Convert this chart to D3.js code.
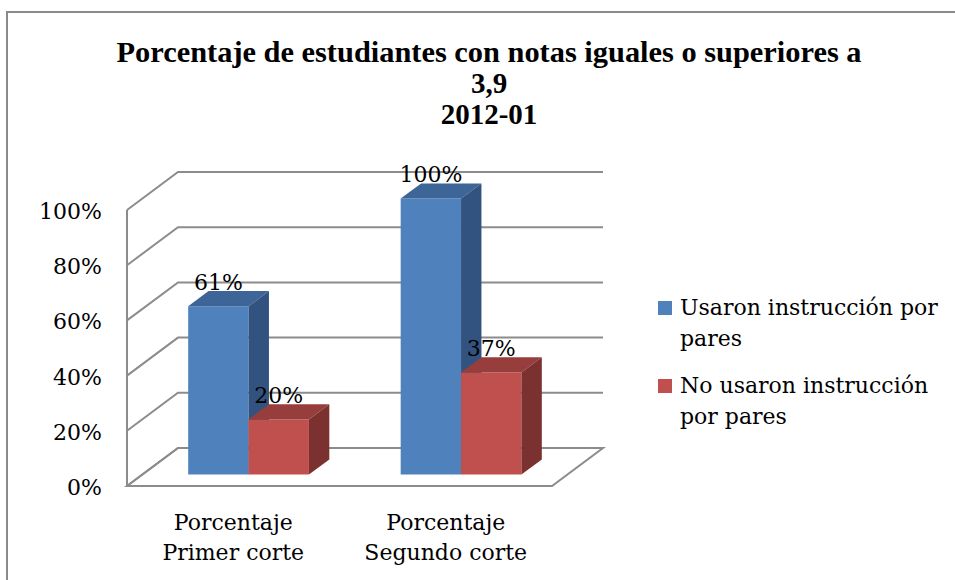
<!DOCTYPE html>
<html>
<head>
<meta charset="utf-8">
<script src="https://cdn.jsdelivr.net/npm/d3@7"></script>
<style>
  body { margin: 0; background: #fff; }
  text { font-family: "DejaVu Serif", serif; fill: #000; }
</style>
</head>
<body>
<div id="chart"></div>
<script>
// chart data
var categories = ["Porcentaje Primer corte", "Porcentaje Segundo corte"];
var categoryLines = [["Porcentaje", "Primer corte"], ["Porcentaje", "Segundo corte"]];
var seriesNames = ["Usaron instrucción por pares", "No usaron instrucción por pares"];
var legendLines = [["Usaron instrucción por", "pares"], ["No usaron instrucción", "por pares"]];
var usaron = [0.61, 1.00];
var noUsaron = [0.20, 0.37];
var valueLabels = [["61%", "100%"], ["20%", "37%"]];
var yTicks = [0, 0.2, 0.4, 0.6, 0.8, 1.0];
var titleLines = ["Porcentaje de estudiantes con notas iguales o superiores a", "3,9", "2012-01"];

var width = 955, height = 580;

var faces = [
  {front: "#4f81bd", top: "#3d6597", side: "#32537f"},
  {front: "#c0504d", top: "#973e3c", side: "#7b3130"}
];

var svg = d3.select("#chart").append("svg")
    .attr("width", width)
    .attr("height", height);

// outer chart border
svg.append("rect")
    .attr("x", 7).attr("y", 12)
    .attr("width", 970).attr("height", 600)
    .attr("fill", "none")
    .attr("stroke", "#8a8a8a")
    .attr("stroke-width", 2);

// scales: front plane plus an oblique depth offset
var x0 = d3.scaleBand().domain(categories).range([127, 552]).padding(0);
var x1 = d3.scaleBand().domain(seriesNames).range([0, x0.bandwidth()])
    .paddingInner(0).paddingOuter(0.76);
var y = d3.scaleLinear().domain([0, 1]).range([486, 210]);
var depth = {dx: 51, dy: -38};
var barZ = [0.3, 0.7];

function proj(x, v, z) {
  return [x + z * depth.dx, y(v) + z * depth.dy];
}
function poly(pts) {
  return pts.map(function(p) { return p.join(","); }).join(" ");
}

var grid = svg.append("g")
    .attr("fill", "none")
    .attr("stroke", "#8c8c8c")
    .attr("stroke-width", 2);

var xl = x0.range()[0], xr = x0.range()[1];

// back wall lines and left wall diagonals
yTicks.forEach(function(t) {
  var a = proj(xl, t, 0), b = proj(xl, t, 1), c = proj(xr, t, 1);
  grid.append("polyline").attr("points", poly([a, b, c]));
});
// left wall front edge
grid.append("line")
    .attr("x1", xl).attr("y1", y(0))
    .attr("x2", xl).attr("y2", y(1));
// floor outline
grid.append("polygon")
    .attr("points", poly([proj(xl, 0, 0), proj(xr, 0, 0), proj(xr, 0, 1), proj(xl, 0, 1)]));

// y tick labels
svg.append("g").selectAll("text")
    .data(yTicks)
    .enter().append("text")
    .attr("x", 102)
    .attr("y", function(d) { return y(d) + 9; })
    .attr("text-anchor", "end")
    .style("font-size", "22px")
    .text(function(d) { return Math.round(d * 100) + "%"; });

// bars
var series = [usaron, noUsaron];
var bars = svg.append("g");
categories.forEach(function(cat, i) {
  series.forEach(function(vals, s) {
    var v = vals[i];
    var xa = x0(cat) + x1(seriesNames[s]);
    var xb = xa + x1.bandwidth();
    var z0 = barZ[0], z1 = barZ[1];
    bars.append("polygon")
        .attr("points", poly([proj(xa, 0, z0), proj(xb, 0, z0), proj(xb, v, z0), proj(xa, v, z0)]))
        .attr("fill", faces[s].front);
    bars.append("polygon")
        .attr("points", poly([proj(xa, v, z0), proj(xb, v, z0), proj(xb, v, z1), proj(xa, v, z1)]))
        .attr("fill", faces[s].top);
    bars.append("polygon")
        .attr("points", poly([proj(xb, 0, z0), proj(xb, v, z0), proj(xb, v, z1), proj(xb, 0, z1)]))
        .attr("fill", faces[s].side);
  });
});

// value labels
categories.forEach(function(cat, i) {
  series.forEach(function(vals, s) {
    var cx = x0(cat) + x1(seriesNames[s]) + x1.bandwidth() / 2;
    var p = proj(cx, vals[i], barZ[0]);
    var q = proj(cx, vals[i], barZ[1]);
    svg.append("text")
        .attr("x", p[0])
        .attr("y", q[1] - 1)
        .attr("text-anchor", "middle")
        .style("font-size", "22px")
        .text(valueLabels[s][i]);
  });
});

// category labels
categories.forEach(function(cat, i) {
  var t = svg.append("text")
      .attr("text-anchor", "middle")
      .style("font-size", "22px");
  categoryLines[i].forEach(function(line, k) {
    t.append("tspan")
        .attr("x", x0(cat) + x0.bandwidth() / 2)
        .attr("y", 530 + k * 30)
        .text(line);
  });
});

// legend
var legend = svg.append("g");
legendLines.forEach(function(lines, s) {
  var top = 315 + s * 78;
  legend.append("rect")
      .attr("x", 658).attr("y", top - 14)
      .attr("width", 14).attr("height", 14)
      .attr("fill", faces[s].front);
  var t = legend.append("text").style("font-size", "22px");
  lines.forEach(function(line, k) {
    t.append("tspan")
        .attr("x", 680)
        .attr("y", top + k * 31)
        .text(line);
  });
});

// title
var title = svg.append("text")
    .attr("text-anchor", "middle")
    .style("font-family", "'Liberation Serif', serif")
    .style("font-weight", "bold")
    .style("font-size", "29px");
titleLines.forEach(function(line, k) {
  var ts = title.append("tspan")
      .attr("x", 489)
      .attr("y", 62 + k * 31)
      .text(line);
  if (k === 0) ts.attr("textLength", 745).attr("lengthAdjust", "spacingAndGlyphs");
});
</script>
</body>
</html>
